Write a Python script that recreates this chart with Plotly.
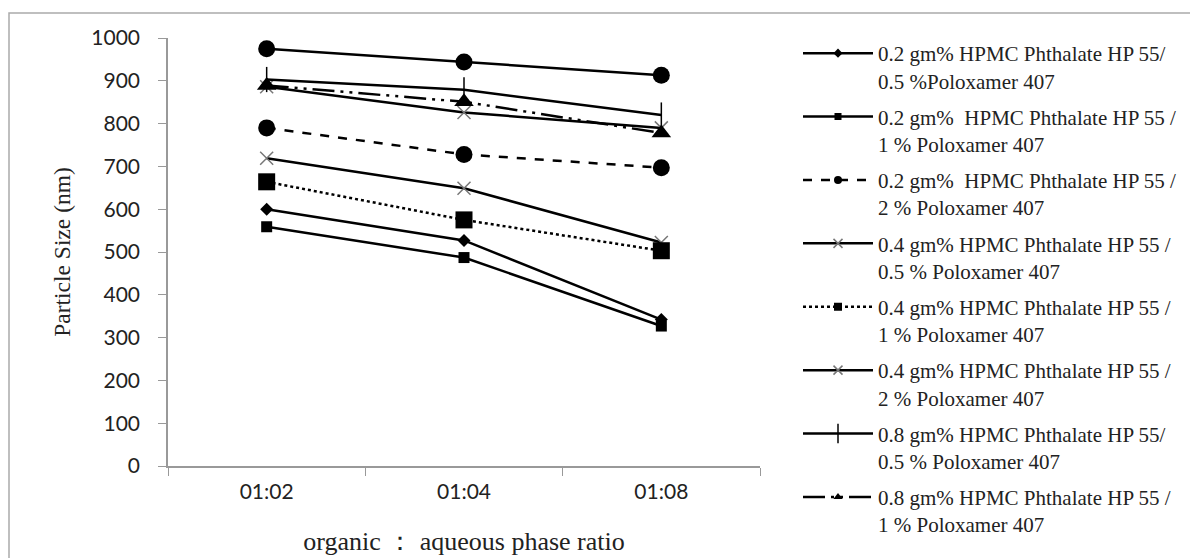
import plotly.graph_objects as go

categories = ["01:02", "01:04", "01:08"]

s1 = [600, 527, 342]   # 0.2 / 0.5 diamond
s2 = [559, 487, 327]   # 0.2 / 1 small square
s3 = [790, 728, 697]   # 0.2 / 2 dashed circle
s4 = [719, 649, 522]   # 0.4 / 0.5 x
s5 = [664, 575, 503]   # 0.4 / 1 dotted big square
s6 = [886, 826, 790]   # 0.4 / 2 x
s7 = [903, 879, 820]   # 0.8 / 0.5 +
s8 = [889, 851, 778]   # 0.8 / 1 triangle dash-dot
s9 = [975, 944, 913]   # top circle (no legend entry in original)

names = [
    "0.2 gm% HPMC Phthalate HP 55/<br>0.5 %Poloxamer 407",
    "0.2 gm%  HPMC Phthalate HP 55 /<br>1 % Poloxamer 407",
    "0.2 gm%  HPMC Phthalate HP 55 /<br>2 % Poloxamer 407",
    "0.4 gm% HPMC Phthalate HP 55 /<br>0.5 % Poloxamer 407",
    "0.4 gm% HPMC Phthalate HP 55 /<br>1 % Poloxamer 407",
    "0.4 gm% HPMC Phthalate HP 55 /<br>2 % Poloxamer 407",
    "0.8 gm% HPMC Phthalate HP 55/<br>0.5 % Poloxamer 407",
    "0.8 gm% HPMC Phthalate HP 55 /<br>1 % Poloxamer 407",
    "0.8 gm% HPMC Phthalate HP 55 /<br>2 % Poloxamer 407",
]

series = [s1, s2, s3, s4, s5, s6, s7, s8, s9]

# (dash, symbol, size, marker colour, marker line colour, marker line width, legend marker size)
styles = [
    ("solid", "diamond", 10, "black", "black", 0, 7),
    ("solid", "square", 11, "black", "black", 0, 7),
    ("dash", "circle", 17, "black", "black", 0, 8),
    ("solid", "x-thin", 13, "#777777", "#777777", 1.5, 9),
    ("dot", "square", 17, "black", "black", 0, 8),
    ("solid", "x-thin", 13, "#777777", "#777777", 1.5, 9),
    ("solid", "line-ns", 18, "black", "black", 1.5, 14),
    ("22px,6px,3px,6px,3px,6px", "triangle-up", 17, "black", "black", 0, 8),
    ("solid", "circle", 17, "black", "black", 0, 8),
]

fig = go.Figure()
for i, (ys, st) in enumerate(zip(series, styles)):
    dash, sym, size, mc, mlc, mlw, lsize = st
    fig.add_trace(go.Scatter(
        x=categories, y=ys, mode="lines+markers", name=names[i],
        line=dict(color="black", width=2.5, dash=dash),
        marker=dict(symbol=sym, size=size, color=mc, line=dict(color=mlc, width=mlw)),
        showlegend=False,
    ))

# plot area in figure px (page body adds 8px offset)
L, R, T, B = 160, 752, 30, 458
W, H = 1198, 558

legend_layouts = {}
for i in range(8):
    dash, sym, size, mc, mlc, mlw, lsize = styles[i]
    lname = "legend" if i == 0 else f"legend{i+1}"
    fig.add_trace(go.Scatter(
        x=[None], y=[None], mode="lines+markers", name=names[i],
        line=dict(color="black", width=2.5, dash=dash),
        marker=dict(symbol=sym, size=lsize, color=mc, line=dict(color=mlc, width=mlw)),
        showlegend=True, legend=lname,
    ))
    top_px = 45 - 20 + 63.4 * i
    legend_layouts[lname] = dict(
        x=(790 - L) / (R - L), y=(B - top_px) / (B - T),
        xanchor="left", yanchor="top",
        font=dict(family="Liberation Serif, serif", size=21, color="#222222"),
        itemwidth=70, valign="top", bgcolor="rgba(0,0,0,0)",
    )

fig.update_layout(
    width=W, height=H,
    margin=dict(l=L, r=W - R, t=T, b=H - B),
    paper_bgcolor="white", plot_bgcolor="white",
    xaxis=dict(
        type="category", range=[-0.5, 2.5], showline=True, linecolor="#999999", linewidth=1.5,
        ticks="outside", tickson="boundaries", ticklen=8, tickcolor="#999999",
        showgrid=False, zeroline=False, ticklabelstandoff=6,
        tickfont=dict(family="Lato, Open Sans, sans-serif", size=21, color="#222222"),
        title=dict(text="organic ： aqueous phase ratio",
                   font=dict(family="Liberation Serif, serif", size=26, color="#222222"),
                   standoff=30),
    ),
    yaxis=dict(
        range=[0, 1000], dtick=100, showline=True, linecolor="#999999", linewidth=1.5,
        ticks="outside", ticklen=8, tickcolor="#999999", showgrid=False, zeroline=False,
        ticklabelstandoff=14,
        tickfont=dict(family="Lato, Open Sans, sans-serif", size=21, color="#222222"),
        title=dict(text="Particle Size (nm)",
                   font=dict(family="Liberation Serif, serif", size=23.5, color="#222222"),
                   standoff=14),
    ),
    shapes=[dict(type="rect", xref="paper", yref="paper",
                 x0=(1 - L) / (R - L), x1=(W + 20 - L) / (R - L),
                 y0=(B - H - 20) / (B - T), y1=(B - 5) / (B - T),
                 line=dict(color="#aaaaaa", width=1.5))],
    **legend_layouts,
)

fig.write_html("out.html")
